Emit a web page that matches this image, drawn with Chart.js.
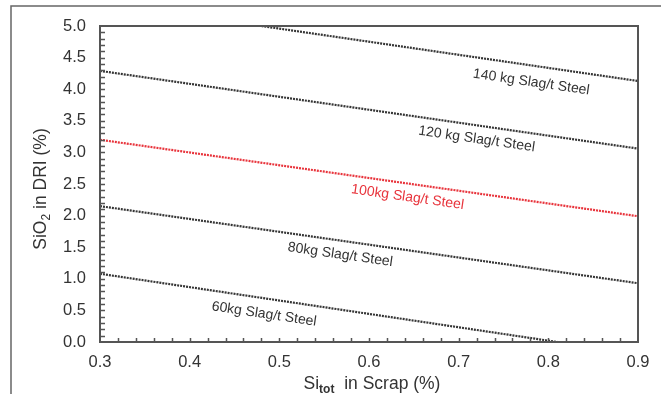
<!DOCTYPE html>
<html>
<head>
<meta charset="utf-8">
<script src="https://cdn.jsdelivr.net/npm/chart.js@4"></script>
<style>
  html, body { margin:0; padding:0; background:#fff; }
  #wrap { width:661px; height:394px; }
</style>
</head>
<body>
<div id="wrap"><canvas id="id_chart" width="661" height="394"></canvas></div>
<script>
// slag lines: SiO2 in DRI vs Si_tot in scrap
var slagNames  = ['140 kg Slag/t Steel', '120 kg Slag/t Steel', '100kg Slag/t Steel', '80kg Slag/t Steel', '60kg Slag/t Steel'];
var startSi    = [0.48, 0.3, 0.3, 0.3, 0.3];
var endSi      = [0.9, 0.9, 0.9, 0.9, 0.81];
var startSiO2  = [5.0, 4.29, 3.20, 2.15, 1.08];
var endSiO2    = [4.13, 3.06, 1.99, 0.93, 0.0];
var labelSi    = [0.781, 0.72, 0.643, 0.568, 0.483];
var labelSiO2  = [4.11, 3.21, 2.29, 1.38, 0.44];
var lineColors = ['#353535', '#353535', '#e8343c', '#353535', '#353535'];

var FONT = '"Liberation Sans", Arial, sans-serif';
var AXIS = '#555555';

var datasets = [];
for (var i = 0; i < slagNames.length; i++) {
    datasets.push({
        label: slagNames[i],
        data: [ {x: startSi[i], y: startSiO2[i]}, {x: endSi[i], y: endSiO2[i]} ],
        borderColor: lineColors[i],
        borderWidth: 2.2,
        borderDash: [2, 1],
        pointRadius: 0,
        fill: false,
        tension: 0
    });
}

var framePlugin = {
    id: 'frame',
    beforeDraw: function(chart){
        var ctx = chart.ctx;
        ctx.save();
        ctx.fillStyle = '#fff';
        ctx.fillRect(0, 0, chart.width, chart.height);
        // outer figure frame (only top and left visible)
        ctx.strokeStyle = '#666';
        ctx.lineWidth = 1.5;
        ctx.beginPath();
        ctx.moveTo(11, chart.height);
        ctx.lineTo(11, 6);
        ctx.lineTo(chart.width, 6);
        ctx.stroke();
        ctx.restore();
    },
    afterDraw: function(chart){
        var ctx = chart.ctx, a = chart.chartArea;
        var xs = chart.scales.x, ys = chart.scales.y;
        var k, px, py;
        ctx.save();
        // inward tick marks
        ctx.strokeStyle = AXIS;
        ctx.lineWidth = 1.5;
        ctx.beginPath();
        for (k = 1; k < 30; k++) {
            px = Math.round(xs.getPixelForValue(0.3 + k * 0.02)) + 0.5;
            ctx.moveTo(px, a.bottom);
            ctx.lineTo(px, a.bottom - 4);
        }
        for (k = 1; k < 50; k++) {
            py = Math.round(ys.getPixelForValue(k * 0.1)) + 0.5;
            ctx.moveTo(a.left, py);
            ctx.lineTo(a.left + 5, py);
        }
        ctx.stroke();
        // plot frame
        ctx.lineWidth = 2;
        ctx.strokeRect(a.left, a.top, a.right - a.left, a.bottom - a.top);

        // line labels along the lines
        ctx.font = '14px ' + FONT;
        ctx.textAlign = 'center';
        ctx.textBaseline = 'middle';
        for (var i = 0; i < slagNames.length; i++) {
            var x0 = xs.getPixelForValue(startSi[i]), y0 = ys.getPixelForValue(startSiO2[i]);
            var x1 = xs.getPixelForValue(endSi[i]),   y1 = ys.getPixelForValue(endSiO2[i]);
            var ang = Math.atan2(y1 - y0, x1 - x0);
            ctx.save();
            ctx.translate(xs.getPixelForValue(labelSi[i]), ys.getPixelForValue(labelSiO2[i]));
            ctx.rotate(ang);
            ctx.fillStyle = (i == 2) ? '#e8343c' : '#333';
            ctx.fillText(slagNames[i], 0, 0);
            ctx.restore();
        }

        // axis titles with subscripts
        ctx.fillStyle = '#333';
        ctx.textAlign = 'left';
        ctx.textBaseline = 'alphabetic';
        var big = '17.5px ' + FONT, small = '12px ' + FONT;
        // y title
        ctx.font = big;  var w1 = ctx.measureText('SiO').width;
        ctx.font = small; var w2 = ctx.measureText('2').width;
        ctx.font = big;  var w3 = ctx.measureText(' in DRI (%)').width;
        var tot = w1 + w2 + w3;
        ctx.save();
        ctx.translate(46, 189);
        ctx.rotate(-Math.PI / 2);
        ctx.font = big;   ctx.fillText('SiO', -tot / 2, 0);
        ctx.font = small; ctx.fillText('2', -tot / 2 + w1, 4);
        ctx.font = big;   ctx.fillText(' in DRI (%)', -tot / 2 + w1 + w2, 0);
        ctx.restore();
        // x title
        ctx.font = big;  var v1 = ctx.measureText('Si').width;
        ctx.font = 'bold ' + small; var v2 = ctx.measureText('tot').width;
        ctx.font = big;  var v3 = ctx.measureText('  in Scrap (%)').width;
        var sx = 372 - (v1 + v2 + v3) / 2;
        ctx.font = big;  ctx.fillText('Si', sx, 389);
        ctx.font = 'bold ' + small; ctx.fillText('tot', sx + v1, 393);
        ctx.font = big;  ctx.fillText('  in Scrap (%)', sx + v1 + v2, 389);
        ctx.restore();
    }
};

var ctx = document.getElementById('id_chart').getContext('2d');
var myChart = new Chart(ctx, {
    type: 'line',
    data: { datasets: datasets },
    options: {
        responsive: false,
        animation: false,
        devicePixelRatio: 1,
        layout: { padding: { left: 0, top: 26, right: 23, bottom: 0 } },
        plugins: { legend: { display: false }, tooltip: { enabled: false } },
        scales: {
            x: {
                type: 'linear',
                min: 0.3, max: 0.9,
                grid: { display: false, drawTicks: false },
                border: { display: false },
                ticks: {
                    stepSize: 0.1,
                    padding: 11,
                    color: '#333',
                    font: { family: FONT, size: 16.5 },
                    maxRotation: 0,
                    callback: function(v){ return Number(v).toFixed(1); }
                },
                afterFit: function(s){ s.height = 52; }
            },
            y: {
                type: 'linear',
                min: 0, max: 5,
                grid: { display: false, drawTicks: false },
                border: { display: false },
                ticks: {
                    stepSize: 0.5,
                    padding: 14,
                    color: '#333',
                    font: { family: FONT, size: 16.5 },
                    callback: function(v){ return Number(v).toFixed(1); }
                },
                afterFit: function(s){ s.width = 100; }
            }
        }
    },
    plugins: [framePlugin]
});
</script>
</body>
</html>
